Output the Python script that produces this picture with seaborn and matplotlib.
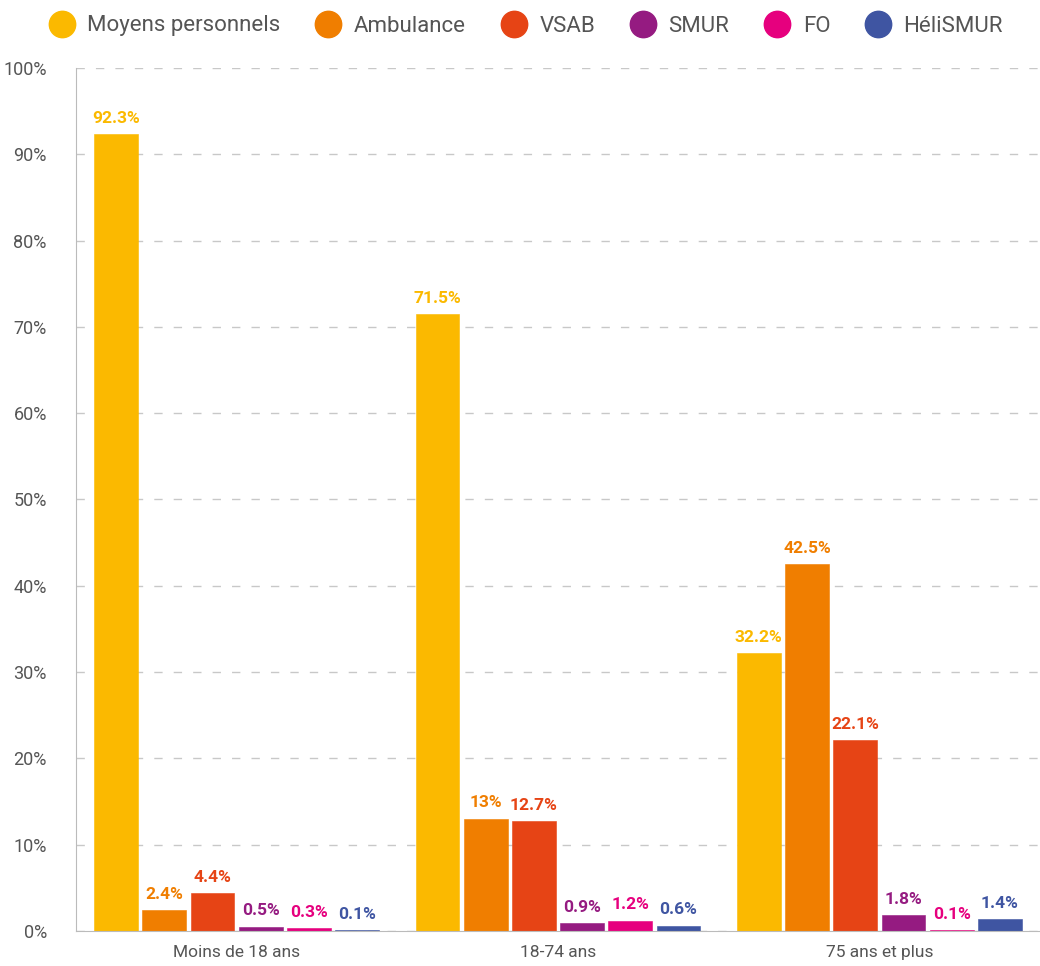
import pandas as pd
import numpy as np
import seaborn as sns
import matplotlib.pyplot as plt
from matplotlib.lines import Line2D

groups = ["Moins de 18 ans", "18-74 ans", "75 ans et plus"]
moyens = ["Moyens personnels", "Ambulance", "VSAB", "SMUR", "FO", "HéliSMUR"]
colors = ["#FBB900", "#F07E00", "#E64415", "#951B81", "#E6007E", "#3F55A2"]

moyens_perso = [92.3, 71.5, 32.2]
ambulance = [2.4, 13, 42.5]
vsab = [4.4, 12.7, 22.1]
smur = [0.5, 0.9, 1.8]
fo = [0.3, 1.2, 0.1]
helismur = [0.1, 0.6, 1.4]

series = [moyens_perso, ambulance, vsab, smur, fo, helismur]
rows = []
for name, vals in zip(moyens, series):
    for g, v in zip(groups, vals):
        rows.append({"groupe": g, "moyen": name, "pct": v})
df = pd.DataFrame(rows)

sns.set_style("white")
plt.rcParams['font.family'] = ['Roboto', 'DejaVu Sans']

fig = plt.figure(figsize=(10.4, 9.66), dpi=100)
ax = fig.add_axes([76/1040, 1 - 931/966, 1 - 76/1040, (931 - 68)/966])
palette = dict(zip(moyens, colors))
sns.barplot(data=df, x="groupe", y="pct", hue="moyen", palette=palette,
            hue_order=moyens, order=groups, width=0.9, gap=0.09,
            saturation=1, ax=ax, legend=False)

# keep tiny bars visible as thin strips
for cont, col in zip(ax.containers, colors):
    for bar in cont:
        bar.set_edgecolor(col)
        bar.set_linewidth(0.4)
    ax.bar_label(cont, labels=[f"{v:g}%" for v in cont.datavalues],
                 color=col, fontsize=12.5, fontweight="bold", padding=6)

ax.set_ylim(0, 100)
ax.set_xlim(-0.5, 2.5)
ax.set_yticks(range(0, 101, 10))
ax.set_yticklabels([f"{t}%" for t in range(0, 101, 10)])
ax.yaxis.grid(True, color="#c8c8c8", linestyle=(0, (6, 8)), linewidth=1)
ax.set_axisbelow(True)
ax.tick_params(axis="y", length=17, color="#bbbbbb", labelsize=13,
               labelcolor="#555555", pad=4)
ax.tick_params(axis="x", length=0, labelsize=12.5, labelcolor="#555555", pad=10)
for s in ["top", "right"]:
    ax.spines[s].set_visible(False)
for s in ["left", "bottom"]:
    ax.spines[s].set_color("#bbbbbb")
ax.set_xlabel("")
ax.set_ylabel("")

handles = [Line2D([], [], marker="o", linestyle="", markersize=19,
                  markerfacecolor=c, markeredgecolor=c) for c in colors]
fig.legend(handles, moyens, loc="center", bbox_to_anchor=(0.505, 1 - 26/966),
           ncol=6, frameon=False, fontsize=16, labelcolor="#555555",
           handletextpad=0.5, columnspacing=1.5, handlelength=1.3)

plt.savefig("out.png", dpi=100)
